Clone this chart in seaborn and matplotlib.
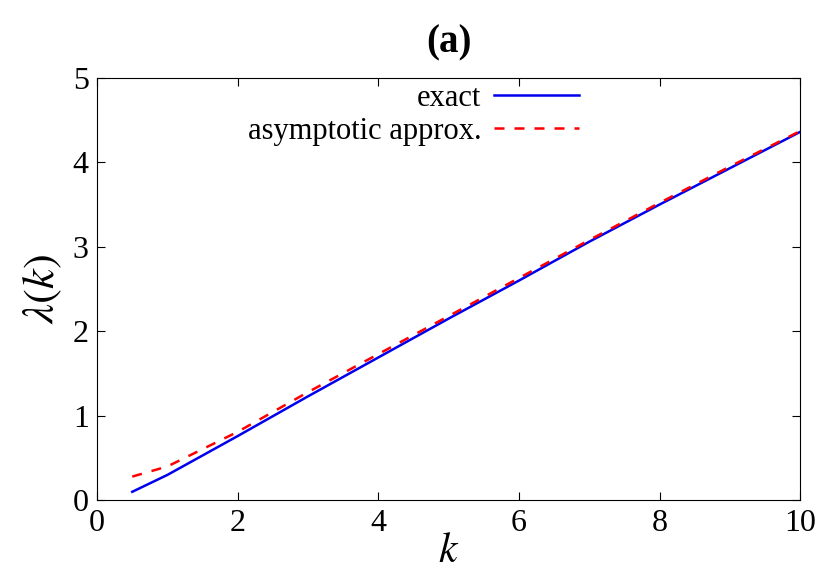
import matplotlib
matplotlib.use("Agg")
import matplotlib.pyplot as plt
import seaborn as sns
import pandas as pd

k = [0.5, 1, 2, 3, 4, 5, 6, 7, 8, 9, 10]
exact = [0.10, 0.30, 0.76, 1.23, 1.69, 2.15, 2.60, 3.06, 3.50, 3.93, 4.36]
approx = [0.28, 0.40, 0.81, 1.28, 1.73, 2.18, 2.63, 3.08, 3.52, 3.95, 4.37]

plt.rcParams["font.family"] = "Liberation Serif"
plt.rcParams["mathtext.fontset"] = "stix"
fig = plt.figure(figsize=(8.3, 5.81), dpi=100)
ax = fig.add_axes([0.117, 0.139, 0.847, 0.727])
df = pd.DataFrame({"k": k, "exact": exact, "approx": approx})
sns.lineplot(data=df, x="k", y="exact", ax=ax, color="#0000ee", lw=1.8, label="exact")
sns.lineplot(data=df, x="k", y="approx", ax=ax, color="#ff0000", lw=1.8, ls=(0, (4, 4)), label="asymptotic approx.")
ax.set_xlim(0, 10); ax.set_ylim(0, 5)
ax.set_xticks([0, 2, 4, 6, 8, 10]); ax.set_yticks([0, 1, 2, 3, 4, 5])
ax.tick_params(direction="in", labelsize=23, top=True, right=True, length=6, pad=6)
ax.set_xlabel(r"$k$", fontsize=30, labelpad=-4)
ax.set_ylabel(r"$\lambda(k)$", fontsize=32, labelpad=6)
ax.set_title("(a)", fontsize=28, fontweight="bold", pad=18)
ax.legend(loc="upper center", bbox_to_anchor=(0.45, 1.03), frameon=False, markerfirst=False,
          fontsize=22, handlelength=2.8, borderaxespad=0.2, labelspacing=0.15, handletextpad=0.4)
fig.savefig("out.png", dpi=100)
